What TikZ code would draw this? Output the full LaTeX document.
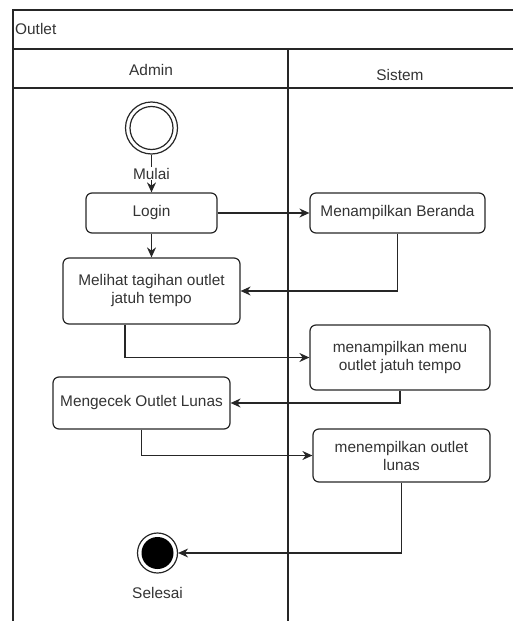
\documentclass[tikz,border=0pt]{standalone}
\usepackage{fontspec}
\setmainfont{Liberation Sans}
\usetikzlibrary{arrows.meta,positioning}

\begin{document}
\begin{tikzpicture}[
  x=1pt, y=-1pt,
  txt/.style={font=\fontsize{15.4}{18}\selectfont, text=black!80, align=center, inner sep=0pt},
  act/.style={txt, draw=black!85, line width=1.2pt, rounded corners=6pt},
  lane/.style={draw=black!85, line width=1.2pt},
  arrow/.style={-{Stealth[length=10pt, width=9pt]}, draw=black!85, line width=1.2pt}
]
  \useasboundingbox (0,0) rectangle (513,621);
  % frame and swimlanes
  \draw[lane] (513,10) -- (13,10) -- (13,621);
  \draw[lane] (13,49) -- (513,49);
  \draw[lane] (13,88) -- (513,88);
  \draw[lane] (288,49) -- (288,621);
  \node[txt, anchor=west] (pool) at (15,29) {Outlet};
  \node[txt] (admin) at (151,70) {Admin};
  \node[txt] (sistem) at (400,75) {Sistem};

  % start and end
  \node[circle, draw=black!85, line width=1.2pt, minimum size=52pt, inner sep=0pt] (start) at (151.5,128) {};
  \node[circle, draw=black!85, line width=1.2pt, minimum size=43pt, inner sep=0pt] (startin) at (start) {};
  \node[circle, draw=black!85, line width=1.2pt, minimum size=40pt, inner sep=0pt] (end) at (157.5,553) {};
  \node[circle, fill=black, minimum size=32pt, inner sep=0pt] (endin) at (end) {};
  \node[txt] (selesai) at (157.5,593) {Selesai};

  % activities
  \node[act, minimum width=131pt, minimum height=40pt] (login) at (151.5,213) {Login};
  \node[act, minimum width=175pt, minimum height=40pt] (beranda) at (397.5,213) {Menampilkan Beranda};
  \node[act, minimum width=177pt, minimum height=66pt] (melihat) at (151.5,291) {Melihat tagihan outlet\\jatuh tempo};
  \node[act, minimum width=180pt, minimum height=65pt] (menu) at (400,357.5) {menampilkan menu\\outlet jatuh tempo};
  \node[act, minimum width=177pt, minimum height=52pt] (cek) at (141.5,403) {Mengecek Outlet Lunas};
  \node[act, minimum width=177pt, minimum height=53pt] (lunas) at (401.5,455.5) {menempilkan outlet\\lunas};

  % flows
  \draw[arrow] (start) -- (login) node[midway, txt, fill=white, inner sep=1pt] {Mulai};
  \draw[arrow] (login) -- (beranda);
  \draw[arrow] (login) -- (melihat);
  \draw[arrow] (beranda.south) |- (melihat.east);
  \draw[arrow] ([xshift=-26.5pt]melihat.south) |- (menu.west);
  \draw[arrow] (menu.south) |- (cek.east);
  \draw[arrow] (cek.south) |- (lunas.west);
  \draw[arrow] (lunas.south) |- (end.east);
\end{tikzpicture}
\end{document}
